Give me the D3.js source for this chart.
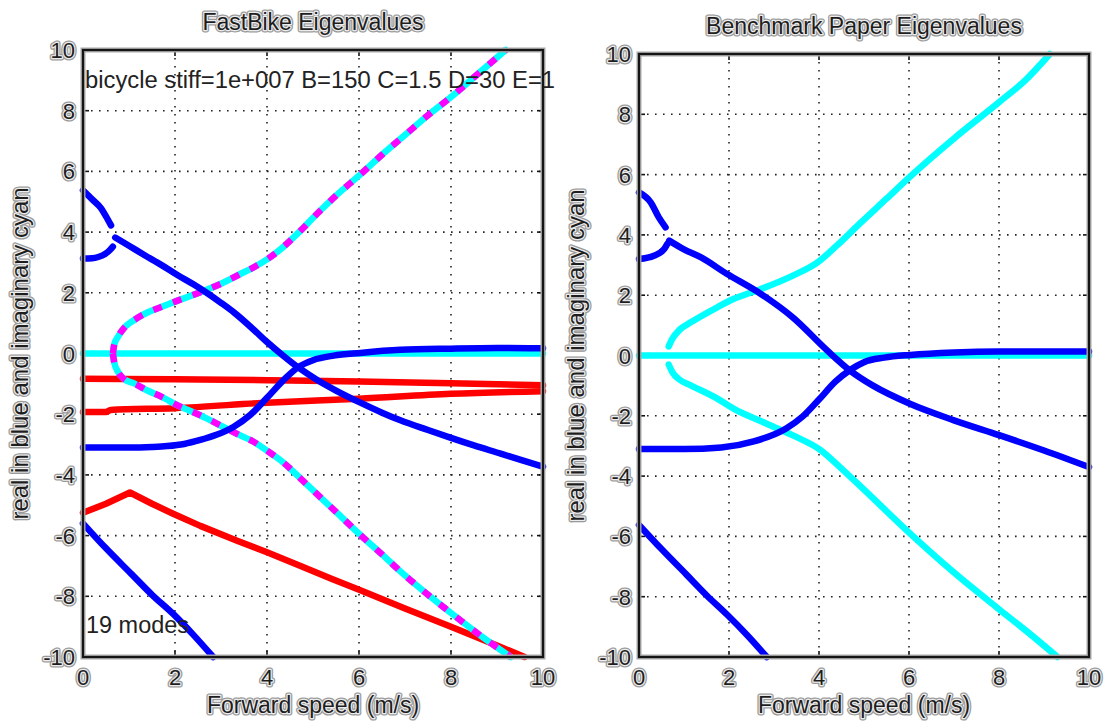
<!DOCTYPE html>
<html>
<head>
  <meta charset="utf-8">
  <title>Bicycle Eigenvalues</title>
  <script src="https://d3js.org/d3.v7.min.js"></script>
  <style>
    body { margin: 0; background: #fff; }
    svg text { font-family: "Liberation Sans", Arial, Helvetica, sans-serif; }
  </style>
</head>
<body>
  <svg id="chart"></svg>

  <script>
    // ---- shared ticks ----
    var xTicks = [0, 2, 4, 6, 8, 10];
    var yTicks = [-10, -8, -6, -4, -2, 0, 2, 4, 6, 8, 10];

    // ---- FastBike eigenvalues (left), [speed, value] ----
    var fbWeaveHi = [[0, 5.38], [0.2, 5.08], [0.39, 4.79], [0.5, 4.52], [0.61, 4.22]];
    var fbWeaveLo = [[0, 3.13], [0.2, 3.14], [0.33, 3.18], [0.48, 3.28], [0.58, 3.4], [0.65, 3.52]];
    var fbWeaveRe = [[0.7, 3.82], [1.0, 3.55], [1.35, 3.23], [1.7, 2.92], [2.07, 2.57], [2.4, 2.28],
      [2.68, 2.01], [3.0, 1.67], [3.3, 1.33], [3.7, 0.8], [4.0, 0.38], [4.36, -0.08], [4.68, -0.46],
      [5.1, -0.88], [5.5, -1.22], [6.03, -1.62], [6.5, -1.95], [6.9, -2.2], [7.5, -2.52], [8.0, -2.78],
      [8.5, -3.03], [9.08, -3.3], [9.5, -3.5], [10, -3.73]];
    var fbCapsize = [[0, -3.1], [0.5, -3.1], [1.0, -3.1], [1.5, -3.08], [1.83, -3.05], [2.2, -2.98],
      [2.55, -2.85], [2.9, -2.68], [3.27, -2.42], [3.64, -2.02], [4.0, -1.46], [4.37, -0.86],
      [4.68, -0.45], [5.0, -0.22], [5.45, -0.07], [6.03, 0.02], [6.9, 0.12], [8.0, 0.16], [9.0, 0.18], [10, 0.17]];
    var fbSteer = [[0, -5.6], [0.5, -6.42], [1.05, -7.26], [1.5, -7.95], [1.96, -8.58], [2.4, -9.27], [2.83, -10]];
    var fbImagZero = [[0, 0], [0.65, 0], [10, 0]];
    var fbImagHi = [[0.65, 0], [0.68, 0.3], [0.76, 0.55], [0.9, 0.85], [1.13, 1.12], [1.4, 1.35],
      [1.7, 1.53], [2.07, 1.75], [2.57, 2.03], [3.0, 2.3], [3.42, 2.62], [3.7, 2.83], [4.0, 3.1],
      [4.36, 3.52], [4.73, 4.05], [5.1, 4.62], [5.5, 5.2], [6.03, 5.9], [6.5, 6.55], [7.0, 7.2],
      [7.5, 7.85], [8.0, 8.45], [8.5, 9.1], [9.19, 10]];
    var fbImagLo = [[0.65, 0], [0.68, -0.3], [0.76, -0.6], [0.9, -0.85], [1.13, -1.0], [1.4, -1.22],
      [1.7, -1.42], [2.07, -1.72], [2.57, -2.05], [3.0, -2.38], [3.42, -2.7], [3.7, -2.9], [4.0, -3.2],
      [4.36, -3.6], [4.73, -4.12], [5.1, -4.65], [5.5, -5.22], [6.03, -5.98], [6.5, -6.62], [6.9, -7.18],
      [7.5, -7.95], [8.0, -8.55], [8.71, -9.37], [9.3, -10]];
    var fbRedA = [[0, -0.83], [2, -0.85], [4, -0.88], [6, -0.92], [8, -0.98], [10, -1.05]];
    var fbRedB = [[0, -1.93], [0.5, -1.93], [0.6, -1.86], [2, -1.8], [4, -1.62], [6, -1.49], [8, -1.33], [10, -1.24]];
    var fbRedC = [[0, -5.25], [0.5, -4.95], [1.02, -4.58], [1.5, -4.95], [1.96, -5.28], [2.55, -5.68],
      [3.35, -6.17], [4.0, -6.55], [4.73, -7.0], [5.4, -7.42], [6.03, -7.8], [7.0, -8.4], [8.0, -9.0],
      [9.0, -9.62], [9.6, -10]];

    // ---- Benchmark paper eigenvalues (right) ----
    var bmWeaveHi = [[0, 5.41], [0.26, 5.08], [0.44, 4.58], [0.59, 4.25]];
    var bmWeaveLo = [[0, 3.2], [0.33, 3.31], [0.56, 3.53], [0.63, 3.7]];
    var bmWeaveRe = [[0.67, 3.81], [1.0, 3.52], [1.37, 3.26], [1.96, 2.7], [2.7, 2.05], [3.42, 1.26],
      [4.18, 0.17], [4.69, -0.5], [5.2, -1.0], [6.02, -1.6], [7.0, -2.15], [8.02, -2.65], [9.0, -3.15], [10, -3.7]];
    var bmCapsize = [[0, -3.1], [1.0, -3.1], [1.83, -3.05], [2.55, -2.85], [3.27, -2.42], [3.64, -2.02],
      [4.0, -1.46], [4.37, -0.86], [4.69, -0.48], [5.0, -0.22], [5.45, -0.07], [6.03, 0.02], [7.0, 0.1],
      [8.0, 0.13], [10, 0.13]];
    var bmSteer = [[0, -5.62], [0.5, -6.42], [1.05, -7.26], [1.5, -7.95], [1.96, -8.6], [2.4, -9.27], [2.84, -10]];
    var bmImagZero = [[0, 0], [10, 0]];
    var bmImagHi = [[0.66, 0.3], [0.74, 0.55], [0.9, 0.85], [1.15, 1.1], [1.74, 1.6], [2.11, 1.88],
      [2.7, 2.2], [3.42, 2.65], [3.96, 3.08], [4.4, 3.65], [4.91, 4.38], [5.5, 5.2], [6.0, 5.9],
      [7.0, 7.2], [8.0, 8.4], [8.6, 9.15], [9.13, 10]];
    var bmImagLo = [[0.66, -0.3], [0.74, -0.55], [0.9, -0.8], [1.15, -0.99], [1.74, -1.43], [2.11, -1.77],
      [2.74, -2.2], [3.42, -2.65], [4.02, -3.12], [4.5, -3.75], [5.0, -4.45], [6.02, -5.9], [7.0, -7.2],
      [8.02, -8.44], [8.7, -9.25], [9.3, -10]];

    var BLUE = "#0000ff", CYAN = "#00ffff", RED = "#ff0000", MAGENTA = "#ff00ff";

    var svg = d3.select("#chart").attr("width", 1113).attr("height", 725);
    svg.append("rect").attr("width", 1113).attr("height", 725).attr("fill", "#fff");

    // text with the grey embossed halo seen in the reference
    function haloText(parent, x, y, str, size, anchor, rotate) {
      var g = parent.append("g")
        .attr("transform", "translate(" + x + "," + y + ")" + (rotate ? " rotate(" + rotate + ")" : ""));
      [["#9a9a9a", 5], ["#ededed", 2.4]].forEach(function(s) {
        g.append("text").attr("text-anchor", anchor).style("font-size", size + "px")
          .attr("fill", "none").attr("stroke", s[0]).attr("stroke-width", s[1])
          .attr("stroke-linejoin", "round").text(str);
      });
      g.append("text").attr("text-anchor", anchor).style("font-size", size + "px")
        .attr("fill", "#1e1e1e").text(str);
    }

    function drawPanel(p) {
      var x = d3.scaleLinear().domain([0, 10]).range([p.left, p.right]);
      var y = d3.scaleLinear().domain([-10, 10]).range([p.bottom, p.top]);
      var g = svg.append("g");

      // dotted grid
      g.selectAll(".gx").data(xTicks.slice(1, -1)).enter().append("line")
        .attr("x1", d => x(d)).attr("x2", d => x(d)).attr("y1", p.top).attr("y2", p.bottom)
        .attr("stroke", "#222").attr("stroke-width", 1.6).attr("stroke-dasharray", "1.6,6.4");
      g.selectAll(".gy").data(yTicks.slice(1, -1)).enter().append("line")
        .attr("y1", d => y(d)).attr("y2", d => y(d)).attr("x1", p.left).attr("x2", p.right)
        .attr("stroke", "#222").attr("stroke-width", 1.6).attr("stroke-dasharray", "1.6,6.4");

      // inward ticks on all four sides
      var tl = 6;
      xTicks.forEach(function(t) {
        g.append("line").attr("x1", x(t)).attr("x2", x(t)).attr("y1", p.bottom).attr("y2", p.bottom - tl)
          .attr("stroke", "#111").attr("stroke-width", 1.6);
        g.append("line").attr("x1", x(t)).attr("x2", x(t)).attr("y1", p.top).attr("y2", p.top + tl)
          .attr("stroke", "#111").attr("stroke-width", 1.6);
      });
      yTicks.forEach(function(t) {
        g.append("line").attr("y1", y(t)).attr("y2", y(t)).attr("x1", p.left).attr("x2", p.left + tl)
          .attr("stroke", "#111").attr("stroke-width", 1.6);
        g.append("line").attr("y1", y(t)).attr("y2", y(t)).attr("x1", p.right).attr("x2", p.right - tl)
          .attr("stroke", "#111").attr("stroke-width", 1.6);
      });

      // curves
      var line = d3.line().x(d => x(d[0])).y(d => y(d[1]));
      p.curves.forEach(function(c) {
        line.curve(c.sharp ? d3.curveLinear : d3.curveMonotoneX);
        g.append("path")
          .attr("d", line(c.data))
          .attr("fill", "none").attr("stroke", c.color).attr("stroke-width", 6.5)
          .attr("stroke-linejoin", "round").attr("stroke-linecap", c.dash ? "butt" : "round")
          .attr("stroke-dasharray", c.dash || null);
      });

      // axes box with halo
      g.append("rect").attr("x", p.left).attr("y", p.top)
        .attr("width", p.right - p.left).attr("height", p.bottom - p.top)
        .attr("fill", "none").attr("stroke", "#a8a8a8").attr("stroke-width", 5);
      g.append("rect").attr("x", p.left).attr("y", p.top)
        .attr("width", p.right - p.left).attr("height", p.bottom - p.top)
        .attr("fill", "none").attr("stroke", "#151515").attr("stroke-width", 2.2);

      // tick labels
      xTicks.forEach(function(t) {
        haloText(svg, x(t), p.bottom + 28, String(t), 22, "middle");
      });
      yTicks.forEach(function(t) {
        haloText(svg, p.left - 8, y(t) + 8, String(t), 22, "end");
      });

      // title and labels
      var cx = (p.left + p.right) / 2;
      haloText(svg, cx, p.top - 20, p.title, 23, "middle");
      haloText(svg, cx, 713, "Forward speed (m/s)", 23, "middle");
      haloText(svg, p.left - 55, (p.top + p.bottom) / 2, "real in blue and imaginary cyan", 24, "middle", -90);

      (p.notes || []).forEach(function(n) {
        svg.append("text").attr("x", n.x).attr("y", n.y).style("font-size", "23px")
          .attr("fill", "#222").attr("textLength", n.len).attr("lengthAdjust", "spacingAndGlyphs")
          .text(n.text);
      });
    }

    drawPanel({
      left: 83, right: 543, top: 50, bottom: 657,
      title: "FastBike Eigenvalues",
      curves: [
        { data: fbRedA, color: RED },
        { data: fbRedB, color: RED },
        { data: fbRedC, color: RED, sharp: true },
        { data: fbImagZero, color: CYAN },
        { data: fbImagHi, color: CYAN },
        { data: fbImagLo, color: CYAN },
        { data: fbImagHi, color: MAGENTA, dash: "9,12" },
        { data: fbImagLo, color: MAGENTA, dash: "9,12" },
        { data: fbSteer, color: BLUE },
        { data: fbCapsize, color: BLUE },
        { data: fbWeaveHi, color: BLUE },
        { data: fbWeaveLo, color: BLUE },
        { data: fbWeaveRe, color: BLUE }
      ],
      notes: [
        { x: 85, y: 88, len: 470, text: "bicycle stiff=1e+007 B=150 C=1.5 D=30 E=1" },
        { x: 86, y: 633, len: 103, text: "19 modes" }
      ]
    });

    drawPanel({
      left: 639, right: 1089, top: 54, bottom: 657,
      title: "Benchmark Paper Eigenvalues",
      curves: [
        { data: bmImagZero, color: CYAN },
        { data: bmImagHi, color: CYAN },
        { data: bmImagLo, color: CYAN },
        { data: bmSteer, color: BLUE },
        { data: bmCapsize, color: BLUE },
        { data: bmWeaveHi, color: BLUE },
        { data: bmWeaveLo, color: BLUE },
        { data: bmWeaveRe, color: BLUE }
      ]
    });
  </script>
</body>
</html>
